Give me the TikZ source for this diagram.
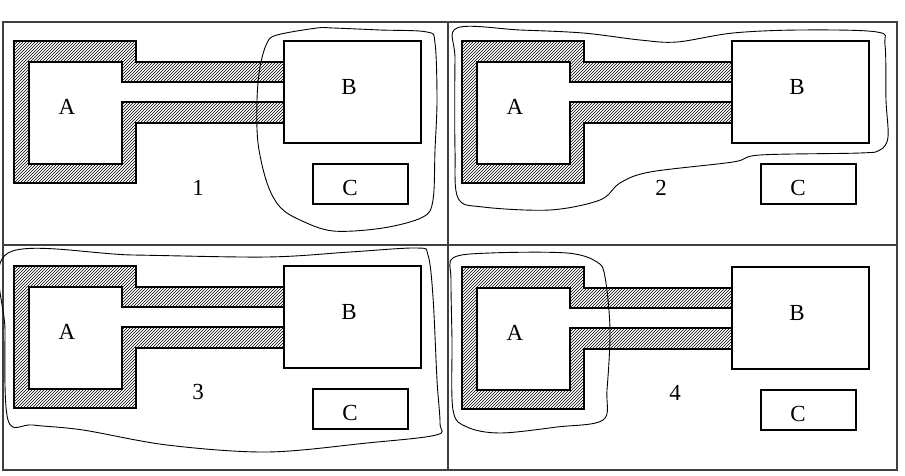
\documentclass[tikz,border=0pt]{standalone}
\usepackage{fontspec}
\setmainfont{Liberation Serif}
\usetikzlibrary{patterns}
\begin{document}
\begin{tikzpicture}[x=1pt,y=-1pt,
  frame/.style={draw=black!75, line width=1.4pt},
  hatched/.style={draw=black, line width=1.1pt, pattern=north east lines, pattern color=black},
  plainbox/.style={draw=black, line width=1.1pt},
  lbl/.style={font=\fontsize{23}{25}\selectfont, inner sep=0pt},
  loopline/.style={draw=black, line width=0.9pt},
  pics/layout/.style={code={
    \draw[hatched] (14,41) -- (136,41) -- (136,62) -- (284,62) -- (284,82) -- (122,82)
      -- (122,62) -- (29,62) -- (29,164) -- (122,164) -- (122,102) -- (284,102)
      -- (284,123) -- (136,123) -- (136,183) -- (14,183) -- cycle;
    \draw[plainbox] (284,41) rectangle (421,143);
    \draw[plainbox] (313,164) rectangle (408,204);
    \node[lbl] (-A) at (67,107) {A};
    \node[lbl] (-B) at (349,87) {B};
    \node[lbl] (-C) at (350,188) {C};
  }}]
\useasboundingbox (0,0) rectangle (905,476);
% frame and dividers
\draw[frame] (3,22) rectangle (897,470);
\draw[frame] (448,22) -- (448,470);
\draw[frame] (3,245) -- (897,245);
% panels
\pic (p1) at (0,0) {layout};
\pic (p2) at (448,0) {layout};
\pic (p3) at (0,225) {layout};
\pic (p4) at (448,226) {layout};
% panel numbers
\node[lbl] (n1) at (198,188) {1};
\node[lbl] (n2) at (661,188) {2};
\node[lbl] (n3) at (198,392) {3};
\node[lbl] (n4) at (675,393) {4};
% loops
\draw[loopline] plot[smooth cycle, tension=0.55] coordinates {
  (277,35) (317,28) (333,28) (380,30) (427,32) (435,43) (437,100) (435,150)
  (433,200) (423,217) (383,228) (333,231) (300,220) (280,207) (267,183)
  (258,143) (257,100) (260,67) (267,43)};
\draw[loopline] plot[smooth cycle, tension=0.55] coordinates {
  (457,28) (520,30) (583,33) (640,40) (677,42) (733,33) (800,30) (877,32)
  (885,45) (886,100) (888,137) (880,150) (860,153) (760,155) (733,162)
  (650,172) (620,183) (600,200) (550,210) (483,207) (458,198) (455,150) (455,60)};
\draw[loopline] plot[smooth cycle, tension=0.55] coordinates {
  (8,253) (133,255) (267,257) (350,252) (417,248) (428,255) (433,297)
  (437,380) (440,423) (436,435) (367,443) (267,452) (167,445) (83,430)
  (33,425) (8,420) (5,330)};
\draw[loopline] plot[smooth cycle, tension=0.55] coordinates {
  (453,258) (490,253) (567,253) (597,262) (605,277) (610,330) (607,390)
  (603,420) (557,427) (500,433) (467,427) (453,410) (452,340) (451,280)};
\end{tikzpicture}
\end{document}
